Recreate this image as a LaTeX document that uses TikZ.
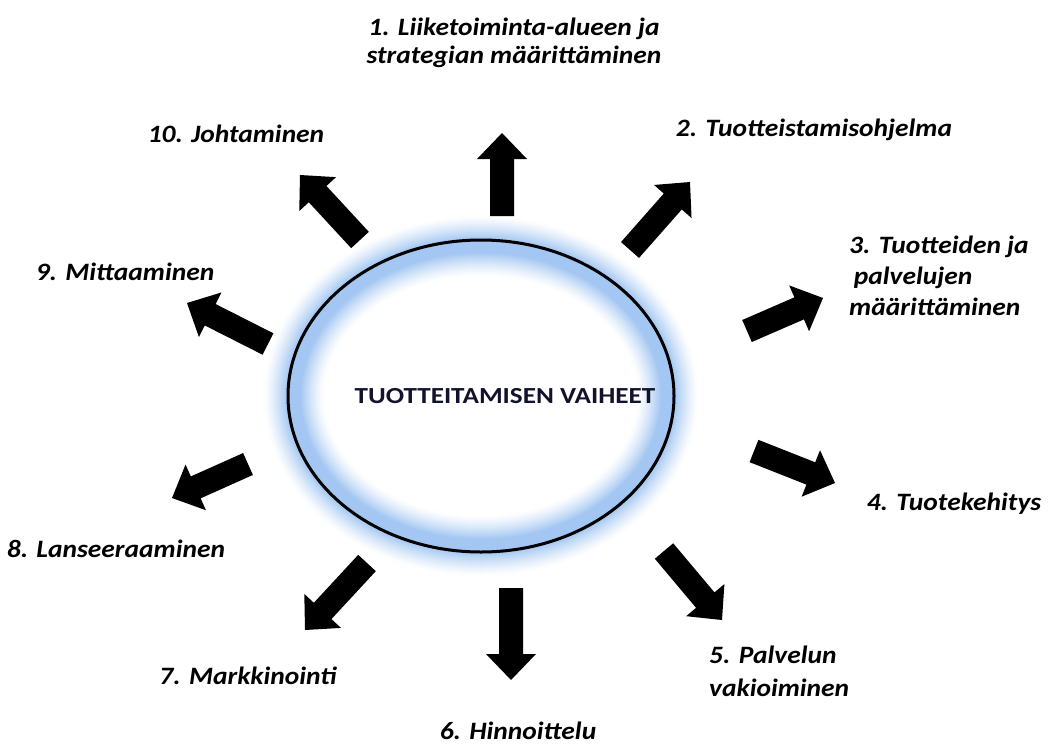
\documentclass[tikz,border=0pt]{standalone}
\usepackage{fontspec}
\setmainfont{Carlito}
\usetikzlibrary{calc}

\definecolor{glowblue}{RGB}{163,199,242}
\definecolor{titleink}{RGB}{18,18,45}

\tikzset{
  phasetext/.style={font=\fontsize{25}{28}\selectfont\bfseries\itshape, inner sep=0pt, xscale=1.1},
  centretext/.style={font=\fontsize{23}{26}\selectfont\bfseries, text=titleink, inner sep=0pt, xscale=1.18}
}

% block arrow from tail #1 to tip #2
\newcommand\phasearrow[2]{%
  \coordinate (hb) at ($(#2)!26pt!(#1)$);
  \fill[black] ($(#1)!12pt!90:(#2)$) -- ($(hb)!12pt!-90:(#1)$) -- ($(hb)!25pt!-90:(#1)$)
    -- (#2) -- ($(hb)!25pt!90:(#1)$) -- ($(hb)!12pt!90:(#1)$)
    -- ($(#1)!12pt!-90:(#2)$) -- cycle;}

\begin{document}
\begin{tikzpicture}[x=1pt,y=-1pt]
\useasboundingbox (0,0) rectangle (1051,744);

% soft blue halo around the ring
\coordinate (C) at (481,396);
\foreach \i in {0,...,29}{
  \pgfmathtruncatemacro\p{min(100,100*(\i/24)^1.3)}
  \draw[line width={(62-2*\i)*1pt}, color=glowblue!\p!white]
    (C) ellipse [x radius=187pt, y radius=150pt];
}
\draw[line width=3pt] (C) ellipse [x radius=193pt, y radius=156pt];
\node[centretext] (core) at (505,396) {TUOTTEITAMISEN VAIHEET};

% arrow tails and tips
\coordinate (t1) at (502,216);  \coordinate (h1) at (502,133);
\coordinate (t2) at (630,250);  \coordinate (h2) at (690,182);
\coordinate (t3) at (747,331);  \coordinate (h3) at (823,298);
\coordinate (t4) at (754,451);  \coordinate (h4) at (835,483);
\coordinate (t5) at (664,551);  \coordinate (h5) at (722,620);
\coordinate (t6) at (511,588);  \coordinate (h6) at (511,680);
\coordinate (t7) at (367,563);  \coordinate (h7) at (305,630);
\coordinate (t8) at (248,464);  \coordinate (h8) at (172,498);
\coordinate (t9) at (268,344);  \coordinate (h9) at (187,303);
\coordinate (t10) at (360,240); \coordinate (h10) at (300,175);

\foreach \k in {1,...,10}{\phasearrow{t\k}{h\k}}

% phase labels
\node[phasetext, align=center] (p1) at (514,43) {1. Liiketoiminta-alueen ja\\strategian määrittäminen};
\node[phasetext] (p2) at (814,130) {2. Tuotteistamisohjelma};
\node[phasetext, align=left, anchor=west, font=\fontsize{25}{31}\selectfont\bfseries\itshape] (p3) at (849,276) {3. Tuotteiden ja\\\,palvelujen\\määrittäminen};
\node[phasetext] (p4) at (954,504) {4. Tuotekehitys};
\node[phasetext, align=left, anchor=west, font=\fontsize{25}{33}\selectfont\bfseries\itshape] (p5) at (709,671) {5. Palvelun\\vakioiminen};
\node[phasetext] (p6) at (518,731) {6. Hinnoittelu};
\node[phasetext] (p7) at (248,676) {7. Markkinointi};
\node[phasetext] (p8) at (116,549) {8. Lanseeraaminen};
\node[phasetext] (p9) at (125,272) {9. Mittaaminen};
\node[phasetext] (p10) at (236,134) {10. Johtaminen};
\end{tikzpicture}
\end{document}
